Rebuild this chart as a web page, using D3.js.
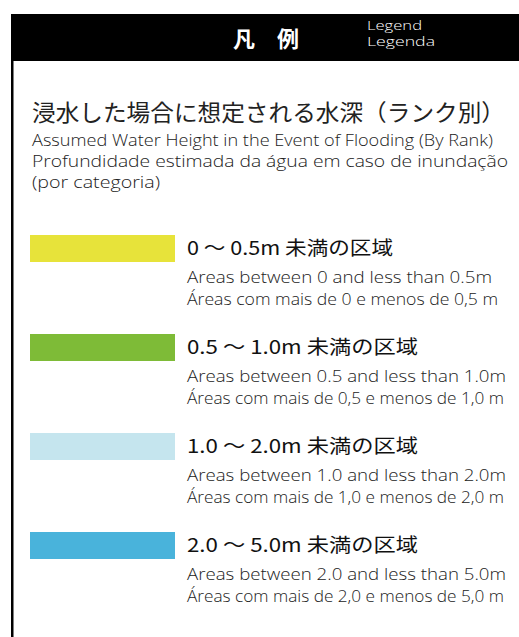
<!DOCTYPE html>
<html><head><meta charset="utf-8">
<script src="https://cdn.jsdelivr.net/npm/d3@7"></script>
<style>body{margin:0;background:#fff}svg{display:block}</style>
</head><body>
<script>
const headerJa = "凡　例";
const headerEn = ["Legend", "Legenda"];
const titleJa = "浸水した場合に想定される水深（ランク別）";
const titleSub = ["Assumed Water Height in the Event of Flooding (By Rank)",
  "Profundidade estimada da água em caso de inundação", "(por categoria)"];
const ranks = ["0 〜 0.5m 未満の区域", "0.5 〜 1.0m 未満の区域", "1.0 〜 2.0m 未満の区域", "2.0 〜 5.0m 未満の区域"];
const ranksEn = ["Areas between 0 and less than 0.5m", "Areas between 0.5 and less than 1.0m",
  "Areas between 1.0 and less than 2.0m", "Areas between 2.0 and less than 5.0m"];
const ranksPt = ["Áreas com mais de 0 e menos de 0,5 m", "Áreas com mais de 0,5 e menos de 1,0 m",
  "Áreas com mais de 1,0 e menos de 2,0 m", "Áreas com mais de 2,0 e menos de 5,0 m"];
const rankColors = ["#e7e33a", "#7ebb37", "#c5e5ee", "#49b3db"];

const W = 519, H = 637;
const svg = d3.select("body").append("svg").attr("width", W).attr("height", H);
const latin = "'Open Sans', 'Noto Sans', sans-serif";
const cjk = "'Noto Sans CJK JP', sans-serif";

function fit(sel, w, mode) {
  sel.attr("textLength", w).attr("lengthAdjust", mode || "spacingAndGlyphs");
}

// header bar
svg.append("rect").attr("x", 11).attr("y", 14).attr("width", W - 11).attr("height", 47).attr("fill", "#000");
svg.append("rect").attr("x", 11).attr("y", 14).attr("width", 2.5).attr("height", H - 14).attr("fill", "#000");
svg.append("text").attr("x", 266).attr("y", 47).attr("text-anchor", "middle")
  .attr("font-family", cjk).attr("font-weight", 700).attr("font-size", 22).attr("fill", "#fff").text(headerJa);
const hw = [55, 68];
svg.selectAll("text.hen").data(headerEn).join("text").attr("class", "hen")
  .attr("x", 367).attr("y", (d, i) => 29.5 + i * 16.5)
  .attr("font-family", latin).attr("font-weight", 300).attr("font-size", 12).attr("fill", "#fff").text(d => d)
  .each(function(d, i){ fit(d3.select(this), hw[i]); });

// title
svg.append("text").attr("x", 32).attr("y", 121).attr("font-family", cjk).attr("font-size", 23)
  .attr("fill", "#222").text(titleJa).call(fit, 473);
const subW = [461, 476, 128];
svg.selectAll("text.sub").data(titleSub).join("text").attr("class", "sub")
  .attr("x", 32).attr("y", (d, i) => 146 + i * 21)
  .attr("font-family", latin).attr("font-weight", 300).attr("font-size", 16).attr("fill", "#222").text(d => d)
  .each(function(d, i){ fit(d3.select(this), subW[i]); });

// items
const y = d3.scaleBand().domain(d3.range(ranks.length)).range([232, 232 + 99 * 4]);
const jaW = [206, 231, 231, 231];
const g = svg.selectAll("g.item").data(ranks).join("g").attr("class", "item")
  .attr("transform", (d, i) => `translate(0,${y(i)})`);
g.append("rect").attr("x", 30).attr("y", 3).attr("width", 145).attr("height", 27)
  .attr("fill", (d, i) => rankColors[i]);
g.append("text").attr("x", 187).attr("y", 23).attr("font-family", cjk).attr("font-size", 19)
  .attr("fill", "#111").text(d => d)
  .each(function(d, i){ fit(d3.select(this), jaW[i]); });
g.append("text").attr("x", 187).attr("y", 51).attr("font-family", latin).attr("font-weight", 300).attr("font-size", 16)
  .attr("fill", "#222").text((d, i) => ranksEn[i])
  .each(function(d, i){ fit(d3.select(this), i === 0 ? 305 : 319); });
g.append("text").attr("x", 187).attr("y", 73).attr("font-family", latin).attr("font-weight", 300).attr("font-size", 16)
  .attr("fill", "#222").text((d, i) => ranksPt[i])
  .each(function(d, i){ fit(d3.select(this), i === 0 ? 311 : 317); });
</script>
</body></html>
